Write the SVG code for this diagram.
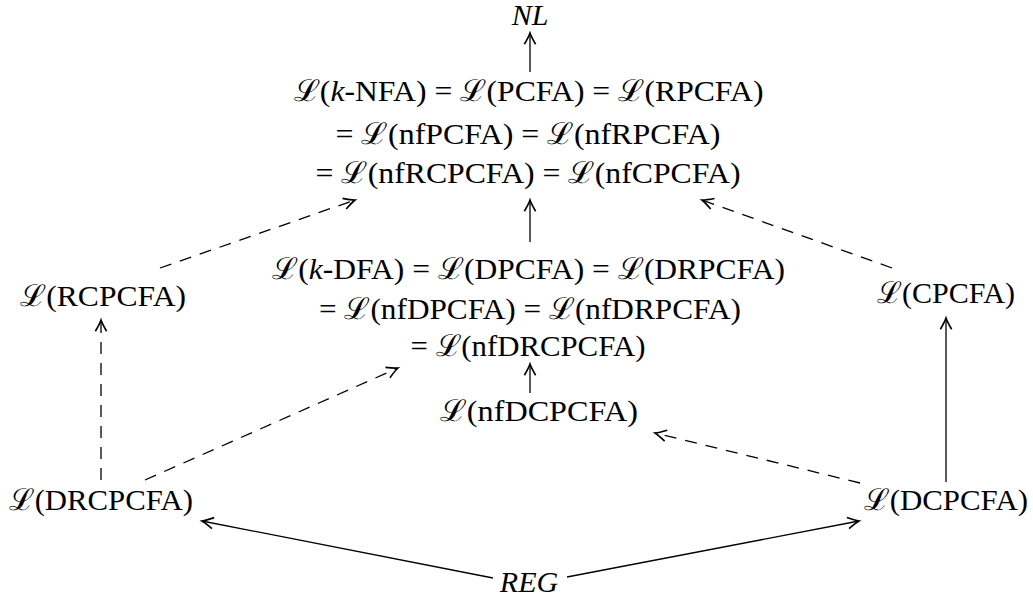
<svg xmlns="http://www.w3.org/2000/svg" width="1033" height="600" viewBox="0 0 1033 600">
<style>
text{font-family:"Liberation Serif","DejaVu Serif",serif;font-size:30px;fill:#000;text-anchor:middle}
.i{font-style:italic}
.c{fill:none;stroke:#000;stroke-width:1.3}
.d{stroke-dasharray:12 9}
</style>
<defs>
<marker id="a" markerUnits="userSpaceOnUse" markerWidth="20" markerHeight="20" refX="0" refY="0" viewBox="-12 -8 16 16" orient="auto" overflow="visible">
<path d="M-9,-4.5 Q-3,-1 0,0 Q-3,1 -9,4.5" fill="none" stroke="#000" stroke-width="1.3" stroke-dasharray="none"/>
</marker>
</defs>
<rect width="1033" height="600" fill="#fff"/>
<g id="connectors">
<line class="c" x1="530" y1="72" x2="530" y2="33" marker-end="url(#a)"/>
<line class="c" x1="530" y1="242" x2="530" y2="200" marker-end="url(#a)"/>
<line class="c d" x1="160" y1="268" x2="355" y2="200" marker-end="url(#a)"/>
<line class="c d" x1="892" y1="268" x2="702" y2="200" marker-end="url(#a)"/>
<line class="c" x1="530" y1="393" x2="530" y2="364" marker-end="url(#a)"/>
<line class="c d" x1="101" y1="480" x2="101" y2="320" marker-end="url(#a)"/>
<line class="c d" x1="145" y1="480" x2="398" y2="368" marker-end="url(#a)"/>
<line class="c d" x1="860" y1="483" x2="655" y2="433" marker-end="url(#a)"/>
<line class="c" x1="946" y1="482" x2="946" y2="318" marker-end="url(#a)"/>
<line class="c" x1="493" y1="578" x2="202" y2="521" marker-end="url(#a)"/>
<line class="c" x1="567" y1="577" x2="859" y2="521" marker-end="url(#a)"/>
</g>
<g id="nl"><text class="i" x="530" y="25">NL</text></g>
<g id="nfa">
<text x="528.5" y="101" textLength="470" lengthAdjust="spacingAndGlyphs">ℒ(<tspan class="i">k</tspan>-NFA) = ℒ(PCFA) = ℒ(RPCFA)</text>
<text x="528" y="144" textLength="385" lengthAdjust="spacingAndGlyphs">= ℒ(nfPCFA) = ℒ(nfRPCFA)</text>
<text x="528" y="183" textLength="425" lengthAdjust="spacingAndGlyphs">= ℒ(nfRCPCFA) = ℒ(nfCPCFA)</text>
</g>
<g id="dfa">
<text x="528.5" y="279" textLength="513" lengthAdjust="spacingAndGlyphs">ℒ(<tspan class="i">k</tspan>-DFA) = ℒ(DPCFA) = ℒ(DRPCFA)</text>
<text x="530" y="319" textLength="422" lengthAdjust="spacingAndGlyphs">= ℒ(nfDPCFA) = ℒ(nfDRPCFA)</text>
<text x="528" y="356" textLength="235" lengthAdjust="spacingAndGlyphs">= ℒ(nfDRCPCFA)</text>
</g>
<g id="rcpcfa"><text x="103" y="306" textLength="166" lengthAdjust="spacingAndGlyphs">ℒ(RCPCFA)</text></g>
<g id="cpcfa"><text x="946" y="303" textLength="138" lengthAdjust="spacingAndGlyphs">ℒ(CPCFA)</text></g>
<g id="nfdcpcfa"><text x="539" y="421" textLength="198" lengthAdjust="spacingAndGlyphs">ℒ(nfDCPCFA)</text></g>
<g id="drcpcfa"><text x="101" y="510" textLength="184" lengthAdjust="spacingAndGlyphs">ℒ(DRCPCFA)</text></g>
<g id="dcpcfa"><text x="946" y="510" textLength="164" lengthAdjust="spacingAndGlyphs">ℒ(DCPCFA)</text></g>
<g id="reg"><text class="i" x="529" y="592">REG</text></g>
</svg>
